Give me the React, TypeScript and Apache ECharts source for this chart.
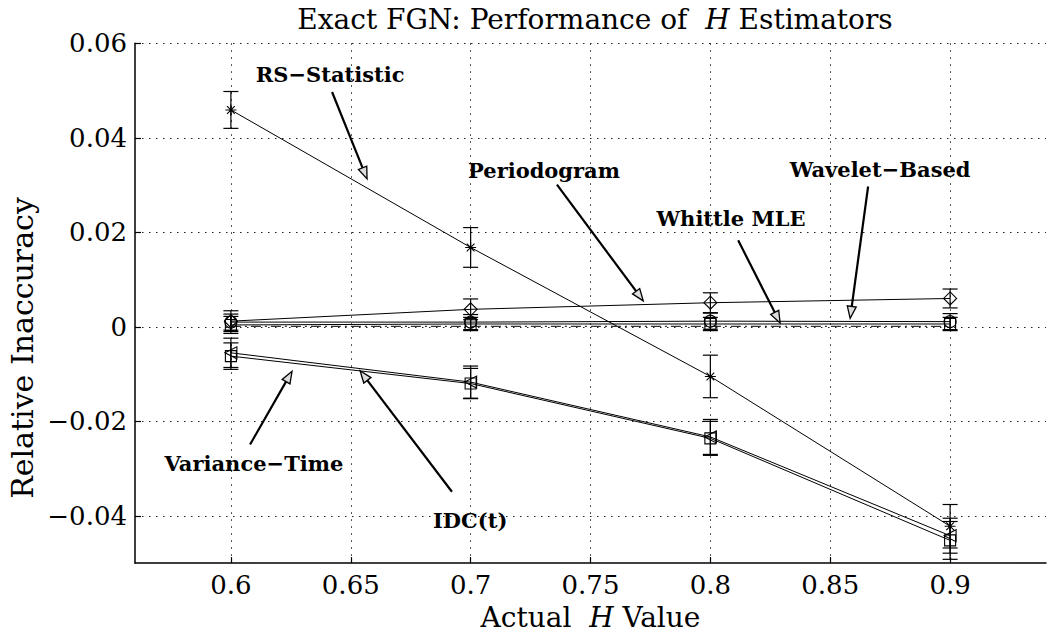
import React, { useEffect, useRef } from "react";
import * as echarts from "echarts";

// ---- data ----
const hValues = [0.6, 0.7, 0.8, 0.9];

const rsMean = [0.0459, 0.0168, -0.0105, -0.0422];
const rsErr = [0.0039, 0.0042, 0.0045, 0.0046];

const periodogramMean = [0.0012, 0.0037, 0.0051, 0.006];
const periodogramErr = [0.0022, 0.0022, 0.0021, 0.002];

const waveletMean = [0.001, 0.001, 0.0012, 0.0011];
const waveletErr = [0.0017, 0.0016, 0.0017, 0.0017];

const whittleMean = [0.0004, 0.0006, 0.0006, 0.0006];
const whittleErr = [0.0018, 0.0014, 0.0014, 0.0014];

const referenceMean = [0.0001, 0.0001, 0.0001, 0.0001];

const varianceTimeMean = [-0.0055, -0.0117, -0.0233, -0.0442];
const varianceTimeErr = [0.0031, 0.0034, 0.0037, 0.0037];

const idcMean = [-0.0062, -0.012, -0.0236, -0.0452];
const idcErr = [0.0028, 0.0032, 0.0036, 0.004];

const xTicks = [0.6, 0.65, 0.7, 0.75, 0.8, 0.85, 0.9];
const yTicks = [-0.04, -0.02, 0, 0.02, 0.04, 0.06];

const titleText = "Exact FGN: Performance of  {i|H} Estimators";
const xTitle = "Actual  {i|H} Value";
const yTitle = "Relative Inaccuracy";

// annotation labels with arrows, in data coordinates
const annotations = [
  { text: "RS\u2212Statistic", tx: 0.6414, ty: 0.0535, ax1: 0.6422, ay1: 0.0497, ax2: 0.6568, ay2: 0.0313 },
  { text: "Periodogram", tx: 0.7306, ty: 0.033, ax1: 0.736, ay1: 0.0301, ax2: 0.772, ay2: 0.0055 },
  { text: "Wavelet\u2212Based", tx: 0.8708, ty: 0.0332, ax1: 0.8658, ay1: 0.0297, ax2: 0.8583, ay2: 0.0018 },
  { text: "Whittle MLE", tx: 0.8086, ty: 0.0229, ax1: 0.8116, ay1: 0.0183, ax2: 0.8291, ay2: 0.0008 },
  { text: "Variance\u2212Time", tx: 0.6096, ty: -0.029, ax1: 0.608, ay1: -0.0249, ax2: 0.6255, ay2: -0.0094 },
  { text: "IDC(t)", tx: 0.6998, ty: -0.0409, ax1: 0.6922, ay1: -0.0349, ax2: 0.6539, ay2: -0.0093 },
];

const SERIF = "DejaVu Serif";
const ASTERISK = "path://M0,5L10,5M5,0L5,10M1.5,1.5L8.5,8.5M8.5,1.5L1.5,8.5";

function lineSeries(name: string, means: number[], symbol: string, size: number, extra: any = {}) {
  return {
    type: "line",
    name,
    data: hValues.map((h, i) => [h, means[i]]),
    symbol,
    symbolSize: size,
    showSymbol: symbol !== "none",
    lineStyle: { color: "#000", width: 1 },
    itemStyle: { color: "rgba(0,0,0,0)", borderColor: "#000", borderWidth: 1.1 },
    emphasis: { disabled: true },
    z: 4,
    ...extra,
  };
}

function errorSeries(name: string, means: number[], errs: number[]) {
  return {
    type: "custom",
    name: name + " error",
    silent: true,
    data: hValues.map((h, i) => [h, means[i] - errs[i], means[i] + errs[i]]),
    encode: { x: 0, y: [1, 2] },
    renderItem: (params: any, api: any) => {
      const lo = api.coord([api.value(0), api.value(1)]);
      const hi = api.coord([api.value(0), api.value(2)]);
      const w = 7.5;
      const style = { stroke: "#000", lineWidth: 1.2, fill: "none" };
      return {
        type: "group",
        children: [
          { type: "line", shape: { x1: lo[0], y1: lo[1], x2: hi[0], y2: hi[1] }, style },
          { type: "line", shape: { x1: lo[0] - w, y1: lo[1], x2: lo[0] + w, y2: lo[1] }, style },
          { type: "line", shape: { x1: hi[0] - w, y1: hi[1], x2: hi[0] + w, y2: hi[1] }, style },
        ],
      };
    },
    z: 3,
  };
}

export default function App() {
  const ref = useRef<HTMLDivElement>(null);

  useEffect(() => {
    if (!ref.current) return;
    const chart = echarts.init(ref.current, undefined, { renderer: "svg" });

    const gridLine = { show: true, lineStyle: { color: "#222", width: 1, type: [1.5, 5.5] } };

    const option: any = {
      animation: false,
      backgroundColor: "#fff",
      title: {
        text: titleText,
        left: 590,
        top: 0,
        textAlign: "center",
        textStyle: {
          fontFamily: SERIF,
          fontSize: 28,
          fontWeight: "normal",
          color: "#000",
          rich: { i: { fontFamily: SERIF, fontSize: 28, fontStyle: "italic", color: "#000" } },
        },
      },
      grid: { left: 135, right: 3, top: 43.3, bottom: 60.3, containLabel: false },
      xAxis: {
        type: "value",
        min: 0.56,
        max: 0.94,
        name: xTitle,
        nameLocation: "middle",
        nameGap: 30,
        nameTextStyle: {
          fontFamily: SERIF,
          fontSize: 28,
          color: "#000",
          rich: { i: { fontFamily: SERIF, fontSize: 28, fontStyle: "italic", color: "#000" } },
        },
        axisLine: { show: true, onZero: false, lineStyle: { color: "#000", width: 1.5 } },
        axisTick: { show: true, inside: true, length: 6, customValues: xTicks, lineStyle: { color: "#000", width: 1.2 } },
        axisLabel: {
          customValues: xTicks,
          margin: 9,
          fontFamily: SERIF,
          fontSize: 26,
          color: "#000",
          formatter: (v: number) => String(+v.toFixed(2)),
        },
        splitLine: gridLine,
      },
      yAxis: {
        type: "value",
        min: -0.05,
        max: 0.06,
        axisLine: { show: true, onZero: false, lineStyle: { color: "#000", width: 1.5 } },
        axisTick: { show: true, inside: true, length: 6, customValues: yTicks, lineStyle: { color: "#000", width: 1.2 } },
        axisLabel: {
          customValues: yTicks,
          margin: 8,
          fontFamily: SERIF,
          fontSize: 26,
          color: "#000",
          formatter: (v: number) => {
            if (Math.abs(v) < 1e-9) return "0";
            return (v < 0 ? "\u2212" : "") + Math.abs(v).toFixed(2);
          },
        },
        splitLine: gridLine,
      },
      series: [
        errorSeries("RS-Statistic", rsMean, rsErr),
        errorSeries("Periodogram", periodogramMean, periodogramErr),
        errorSeries("Wavelet-Based", waveletMean, waveletErr),
        errorSeries("Whittle MLE", whittleMean, whittleErr),
        errorSeries("Variance-Time", varianceTimeMean, varianceTimeErr),
        errorSeries("IDC(t)", idcMean, idcErr),
        lineSeries("RS-Statistic", rsMean, ASTERISK, 11),
        lineSeries("Periodogram", periodogramMean, "diamond", 13),
        lineSeries("Wavelet-Based", waveletMean, "circle", 12),
        lineSeries("Whittle MLE", whittleMean, "rect", 11),
        lineSeries("Reference", referenceMean, "none", 0, {
          lineStyle: { color: "#333", width: 1.2, type: [10, 4, 2, 4] },
        }),
        lineSeries("Variance-Time", varianceTimeMean, "triangle", 12, { symbolRotate: 90 }),
        lineSeries("IDC(t)", idcMean, "rect", 11),
      ],
    };

    chart.setOption(option);

    const graphics: any[] = [];
    const px = (x: number, y: number) => chart.convertToPixel({ gridIndex: 0 }, [x, y]) as number[];
    annotations.forEach((a) => {
      const t = px(a.tx, a.ty);
      graphics.push({
        type: "text",
        x: t[0],
        y: t[1],
        z: 10,
        style: {
          text: a.text,
          fontFamily: SERIF,
          fontSize: 21,
          fontWeight: "bold",
          fill: "#000",
          textAlign: "center",
          textVerticalAlign: "middle",
          align: "center",
          verticalAlign: "middle",
        },
      });
      const p1 = px(a.ax1, a.ay1);
      const p2 = px(a.ax2, a.ay2);
      const dx = p2[0] - p1[0];
      const dy = p2[1] - p1[1];
      const len = Math.sqrt(dx * dx + dy * dy);
      const ux = dx / len;
      const uy = dy / len;
      const L = 12;
      const W = 4.5;
      const bx = p2[0] - ux * L;
      const by = p2[1] - uy * L;
      graphics.push({
        type: "line",
        z: 10,
        shape: { x1: p1[0], y1: p1[1], x2: bx, y2: by },
        style: { stroke: "#000", lineWidth: 2.2 },
      });
      graphics.push({
        type: "polygon",
        z: 10,
        shape: {
          points: [
            [p2[0], p2[1]],
            [bx - uy * W, by + ux * W],
            [bx + uy * W, by - ux * W],
          ],
        },
        style: { stroke: "#000", lineWidth: 1.3, fill: "#ddd" },
      });
    });
    graphics.push({
      type: "text",
      x: 22,
      y: 348,
      rotation: Math.PI / 2,
      style: {
        text: yTitle,
        fontFamily: SERIF,
        fontSize: 30,
        fill: "#000",
        textAlign: "center",
        textVerticalAlign: "middle",
        align: "center",
        verticalAlign: "middle",
      },
    });
    chart.setOption({ graphic: graphics });

    return () => chart.dispose();
  }, []);

  return (
    <div
      ref={ref}
      style={{ position: "fixed", left: 0, top: 0, width: 1049, height: 636, background: "#fff" }}
    />
  );
}
